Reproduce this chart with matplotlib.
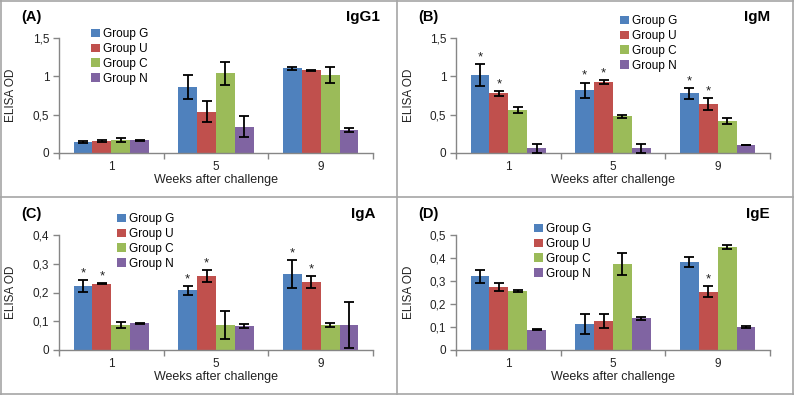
import numpy as np
import matplotlib.pyplot as plt
from matplotlib.lines import Line2D
from matplotlib.ticker import FuncFormatter

plt.rcParams['font.family'] = ['Liberation Sans', 'DejaVu Sans']

W, H = 794, 395

groups = ["Group G", "Group U", "Group C", "Group N"]
colors = ["#4F81BD", "#C0504D", "#9BBB59", "#8064A2"]
weeks = ["1", "5", "9"]

# one row per group (G, U, C, N), one column per week (1, 5, 9)
igg1_mean = [[0.14, 0.86, 1.105], [0.15, 0.54, 1.08], [0.165, 1.04, 1.02], [0.16, 0.34, 0.30]]
igg1_err = [[0.01, 0.16, 0.025], [0.015, 0.14, 0.01], [0.025, 0.15, 0.10], [0.012, 0.14, 0.03]]
igg1_stars = []

igm_mean = [[1.02, 0.82, 0.78], [0.78, 0.925, 0.64], [0.56, 0.475, 0.42], [0.06, 0.06, 0.10]]
igm_err = [[0.145, 0.10, 0.07], [0.03, 0.03, 0.08], [0.035, 0.025, 0.04], [0.06, 0.06, 0.005]]
igm_stars = [(0, 0), (1, 0), (0, 1), (1, 1), (0, 2), (1, 2)]

iga_mean = [[0.222, 0.208, 0.264], [0.231, 0.257, 0.237], [0.087, 0.087, 0.087], [0.092, 0.083, 0.087]]
iga_err = [[0.02, 0.015, 0.048], [0.003, 0.022, 0.021], [0.01, 0.05, 0.007], [0.003, 0.008, 0.08]]
iga_stars = [(0, 0), (1, 0), (0, 1), (1, 1), (0, 2), (1, 2)]

ige_mean = [[0.32, 0.112, 0.382], [0.274, 0.126, 0.254], [0.256, 0.375, 0.449], [0.087, 0.138, 0.099]]
ige_err = [[0.027, 0.042, 0.021], [0.016, 0.03, 0.024], [0.004, 0.047, 0.009], [0.002, 0.007, 0.006]]
ige_stars = [(1, 2)]


def px_box(l, t, r, b):
    return [l / W, 1 - b / H, (r - l) / W, (b - t) / H]


def comma(v, pos):
    return f"{v:g}".replace(".", ",")


def draw(box, mean, err, stars, ymax, ystep, label, label_xy, iso, iso_xy, leg_xy):
    ax = fig.add_axes(px_box(*box))
    x = np.arange(len(weeks))
    bw = 0.18
    for i, g in enumerate(groups):
        xi = x + (i - 1.5) * bw
        ax.bar(xi, mean[i], bw, color=colors[i], label=g, zorder=2)
        ax.errorbar(xi, mean[i], yerr=err[i], fmt="none", ecolor="black",
                    elinewidth=1.3, capsize=3.3, capthick=1.3, zorder=3)
    for gi, wi in stars:
        top = mean[gi][wi] + err[gi][wi]
        ax.annotate("*", (wi + (gi - 1.5) * bw, top), xytext=(0, 0.5),
                    textcoords="offset points", ha="center", va="bottom",
                    fontsize=9.5, color="#222222")
    ax.set_xlim(-0.5, len(weeks) - 0.5)
    ax.set_ylim(0, ymax)
    ax.set_yticks(np.arange(0, ymax + ystep / 2, ystep))
    ax.yaxis.set_major_formatter(FuncFormatter(comma))
    ax.set_xticks(x)
    ax.set_xticklabels(weeks)
    ax.set_xticks(np.arange(-0.5, len(weeks), 1), minor=True)
    ax.tick_params(axis="x", which="major", length=0, pad=6, labelsize=8.5, colors="#222222")
    ax.tick_params(axis="x", which="minor", length=4, width=1, color="#868686")
    ax.tick_params(axis="y", length=4, width=1, color="#868686", labelsize=8.5,
                   labelcolor="#222222", pad=3)
    for s in ["top", "right"]:
        ax.spines[s].set_visible(False)
    for s in ["left", "bottom"]:
        ax.spines[s].set_color("#868686")
        ax.spines[s].set_linewidth(1)
    ax.set_xlabel("Weeks after challenge", fontsize=9, color="#222222", labelpad=1)
    ax.set_ylabel("ELISA OD", fontsize=8.5, color="#222222", labelpad=11)
    fig.text(label_xy[0] / W, 1 - label_xy[1] / H, label, fontsize=10.5,
             fontweight="bold", ha="left", va="center")
    fig.text(iso_xy[0] / W, 1 - iso_xy[1] / H, iso, fontsize=11,
             fontweight="bold", ha="right", va="center")
    ax.legend(loc="upper left", bbox_to_anchor=(leg_xy[0] / W, 1 - leg_xy[1] / H),
              bbox_transform=fig.transFigure, frameon=False, fontsize=8.5,
              handlelength=0.75, handleheight=0.75, handletextpad=0.3,
              labelspacing=0.25, borderpad=0, borderaxespad=0)
    return ax


fig = plt.figure(figsize=(W / 100, H / 100), dpi=100)

draw((59, 38.3, 373, 152.7), igg1_mean, igg1_err, igg1_stars, 1.5, 0.5,
     "(A)", (21, 17), "IgG1", (380, 17), (91, 28))
draw((456, 38.3, 770, 152.7), igm_mean, igm_err, igm_stars, 1.5, 0.5,
     "(B)", (418, 17), "IgM", (770, 17), (620, 15))
draw((59, 235.3, 373, 349.7), iga_mean, iga_err, iga_stars, 0.4, 0.1,
     "(C)", (21, 214), "IgA", (375, 214), (117, 213))
draw((456, 235.3, 770, 349.7), ige_mean, ige_err, ige_stars, 0.5, 0.1,
     "(D)", (418, 214), "IgE", (770, 214), (534, 223))

# panel frames
for xp in (1, 397, 793):
    fig.add_artist(Line2D([xp / W, xp / W], [0, 1], color="#a6a6a6", lw=1.2))
for yp in (1, 197, 394):
    fig.add_artist(Line2D([0, 1], [1 - yp / H, 1 - yp / H], color="#a6a6a6", lw=1.2))

fig.savefig("out.png", dpi=100)
